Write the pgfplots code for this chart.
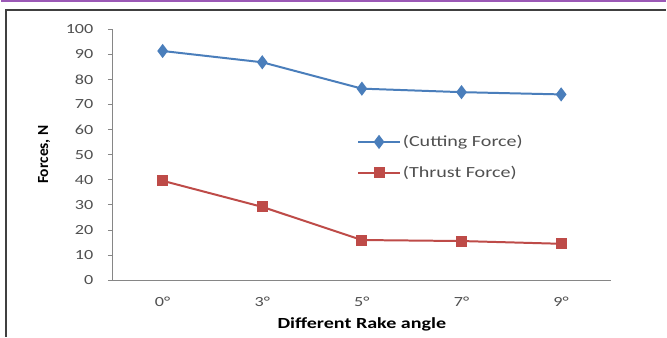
\documentclass[border=0pt]{standalone}
\usepackage{pgfplots}
\pgfplotsset{compat=1.18}
\usepackage{fontspec}
\setmainfont{Carlito}[FakeStretch=1.3]
\newfontfamily\plainfont{Carlito}
\definecolor{cblue}{HTML}{4A7EBB}
\definecolor{cred}{HTML}{BE4B48}
\definecolor{axgray}{HTML}{868686}
\definecolor{txtgray}{HTML}{505050}
\definecolor{purp}{HTML}{9B59B6}
\begin{document}
\begin{tikzpicture}[x=1pt,y=1pt]
\path[fill=white] (0,0) rectangle (667,-338);
\draw[purp, line width=2.5pt] (0,-1) -- (667,-1);
\draw[black!75, line width=1.5pt] (5,-338) -- (5,-10) -- (667,-10);
\begin{axis}[
  at={(112pt,-281pt)}, anchor=south west,
  scale only axis, width=500pt, height=252pt,
  xmin=-0.5, xmax=4.5, ymin=0, ymax=100,
  axis lines*=left,
  axis line style={axgray, line width=0.8pt, -},
  xtick={0,1,2,3,4},
  xticklabels={0°,3°,5°,7°,9°},
  minor xtick={-0.5,0.5,1.5,2.5,3.5,4.5},
  ytick={0,10,...,100},
  tick align=outside,
  major tick length=5pt, minor tick length=5pt,
  xtick style={draw=none},
  minor tick style={axgray, line width=0.8pt},
  ytick style={axgray, line width=0.8pt},
  /pgf/number format/assume math mode=true,
  ticklabel style={font=\fontsize{14}{16}\selectfont, text=txtgray},
  xticklabel style={anchor=center, yshift=-17pt},
  yticklabel style={anchor=east, xshift=-11pt},
  xlabel={\textbf{Different Rake angle}},
  ylabel={\plainfont\textbf{Forces, N}},
  every axis x label/.style={at={(axis description cs:0.5,-0.175)}, anchor=center,
    font=\fontsize{15.5}{18}\selectfont, text=black},
  every axis y label/.style={at={(axis description cs:-0.138,0.5)}, anchor=center, rotate=90,
    font=\fontsize{15.5}{18}\selectfont, text=black},
  legend style={at={(0.49,0.585)}, anchor=north west, draw=none, fill=none,
    font=\fontsize{15.5}{18}\selectfont, text=txtgray, row sep=14pt, inner sep=0pt},
  legend cell align=left,
  legend image code/.code={
    \draw[#1, mark repeat=2, mark phase=2] plot coordinates {(0pt,0pt) (21pt,0pt) (42pt,0pt)};
  },
  clip=false,
]
\addplot[cblue, line width=2pt, mark=diamond*, mark size=5.5pt, mark options={solid, fill=cblue, draw=cblue}]
  coordinates {(0,91.3) (1,86.8) (2,76.3) (3,74.9) (4,74.0)};
\addlegendentry{(Cutting Force)}
\addplot[cred, line width=2pt, mark=square*, mark size=4.5pt, mark options={solid, fill=cred, draw=cred}]
  coordinates {(0,39.6) (1,29.2) (2,16.0) (3,15.6) (4,14.5)};
\addlegendentry{(Thrust Force)}
\end{axis}
\end{tikzpicture}
\end{document}
